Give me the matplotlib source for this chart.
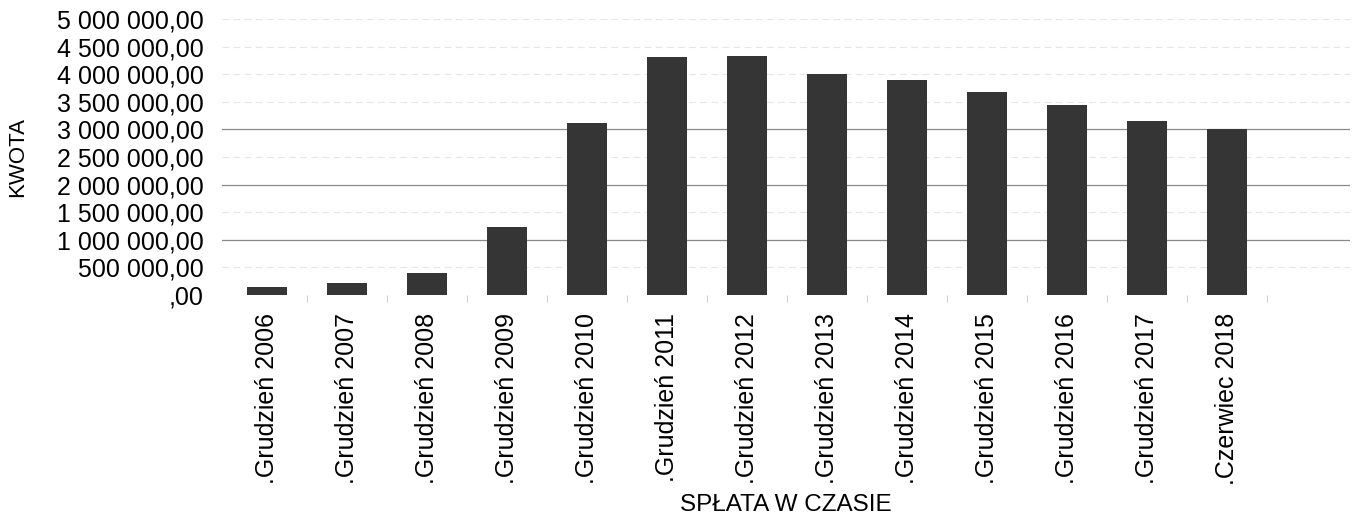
import matplotlib
matplotlib.use("Agg")
import matplotlib.pyplot as plt
from matplotlib.ticker import FuncFormatter, MultipleLocator, FixedLocator

# data
labels = [".Grudzień 2006", ".Grudzień 2007", ".Grudzień 2008", ".Grudzień 2009",
          ".Grudzień 2010", ".Grudzień 2011", ".Grudzień 2012", ".Grudzień 2013",
          ".Grudzień 2014", ".Grudzień 2015", ".Grudzień 2016", ".Grudzień 2017",
          ".Czerwiec 2018"]
kwota = [145000, 217000, 400000, 1240000, 3110000, 4320000, 4330000,
         4010000, 3900000, 3680000, 3440000, 3160000, 3010000]
major_lines = [1000000, 2000000, 3000000]

plt.rcParams['font.family'] = ['Liberation Sans', 'DejaVu Sans']


def pl_format(v, pos):
    s = f"{v:,.2f}".replace(",", " ").replace(".", ",")
    if s.startswith("0,"):
        s = s[1:]
    return s


fig = plt.figure(figsize=(13.55, 5.19), dpi=100)
ax = fig.add_axes([0.1638, 0.4316, 0.8325, 0.5318])

x = list(range(len(labels)))
ax.bar(x, kwota, width=0.5, color='#353535', zorder=3)

ax.set_ylim(0, 5000000)
ax.set_xlim(-0.56, 13.54)
ax.yaxis.set_major_locator(MultipleLocator(500000))
ax.yaxis.set_major_formatter(FuncFormatter(pl_format))

# faint grid, with the whole millions a bit darker
for v in range(500000, 5000001, 500000):
    if v in major_lines:
        ax.axhline(v, color='#8a8a8a', lw=0.9, zorder=1)
    else:
        ax.axhline(v, color='#e6e6e6', lw=0.8, ls=(0, (6, 4)), zorder=1)

ax.set_xticks(x)
ax.set_xticklabels(labels, rotation=90, fontsize=18)
ax.xaxis.set_minor_locator(FixedLocator([i + 0.5 for i in x]))
ax.tick_params(axis='x', which='major', length=0, pad=13)
ax.tick_params(axis='x', which='minor', length=5, color='#d0d0d0', width=0.8)
ax.tick_params(axis='y', length=0, pad=13, labelsize=18)

for s in ax.spines.values():
    s.set_visible(False)

ax.set_ylabel("KWOTA", fontsize=16)
ax.yaxis.set_label_coords(-0.172, 0.5)
ax.set_xlabel("SPŁATA W CZASIE", fontsize=17.5)
ax.xaxis.set_label_coords(0.5, -0.72)

fig.savefig("out.png", dpi=100, facecolor='white')
